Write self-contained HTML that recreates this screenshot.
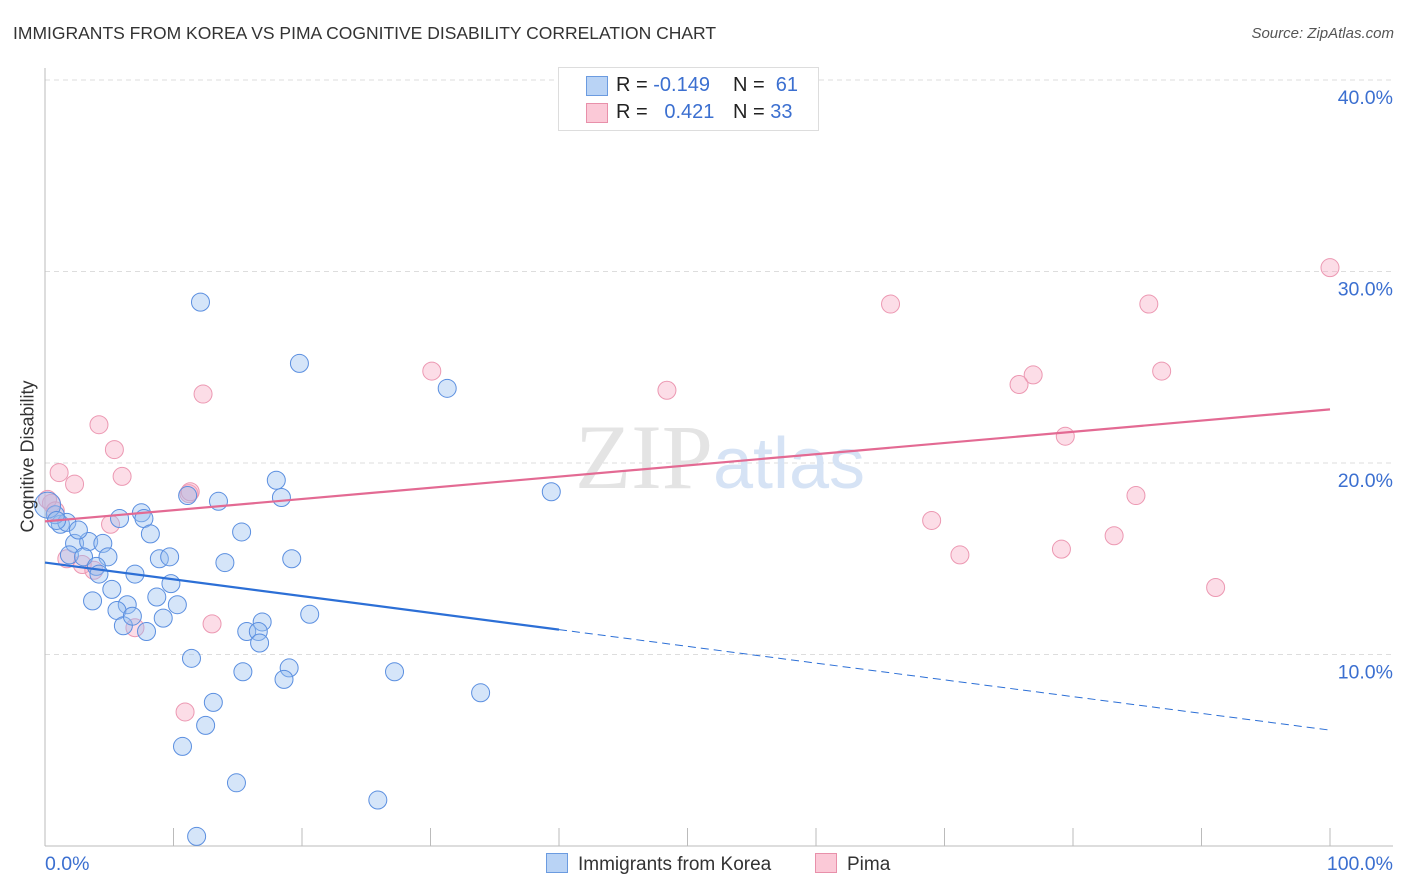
<!DOCTYPE html>
<html><head><meta charset="utf-8">
<style>
body{margin:0;background:#fff;font-family:"Liberation Sans",sans-serif;}
#wrap{position:relative;width:1406px;height:892px;overflow:hidden;}
.t{position:absolute;white-space:nowrap;}
</style></head>
<body>
<div id="wrap">
<div class="t" style="left:13px;top:23px;font-size:17.5px;color:#333;">IMMIGRANTS FROM KOREA VS PIMA COGNITIVE DISABILITY CORRELATION CHART</div>
<div class="t" style="right:12px;top:25px;font-size:15px;color:#555;font-style:italic;">Source: ZipAtlas.com</div>
<svg id="svg" width="1406" height="892" style="position:absolute;left:0;top:0"></svg>
<div class="t" style="left:558px;top:67px;width:259px;height:62px;border:1px solid #ddd;background:#fff;font-size:20px;">
  <div style="position:absolute;left:27px;top:8px;width:20px;height:18px;background:#b9d3f5;border:1px solid #6b9be0"></div>
  <div class="t" style="left:57px;top:6px;color:#222">R = <span style="color:#3b6fd0">-0.149</span></div>
  <div class="t" style="left:174px;top:6px;color:#222">N = <span style="color:#3b6fd0">&nbsp;61</span></div>
  <div style="position:absolute;left:27px;top:35px;width:20px;height:18px;background:#fbc9d7;border:1px solid #e890aa"></div>
  <div class="t" style="left:57px;top:33px;color:#222">R = <span style="color:#3b6fd0">&nbsp;&nbsp;0.421</span></div>
  <div class="t" style="left:174px;top:33px;color:#222">N = <span style="color:#3b6fd0">33</span></div>
</div>
<div class="t" style="left:546px;top:853px;font-size:19px;color:#333;"><span style="display:inline-block;width:20px;height:18px;background:#b9d3f5;border:1px solid #6b9be0;vertical-align:-3px;margin-right:10px"></span>Immigrants from Korea</div>
<div class="t" style="left:815px;top:853px;font-size:19px;color:#333;"><span style="display:inline-block;width:20px;height:18px;background:#fbc9d7;border:1px solid #e890aa;vertical-align:-3px;margin-right:10px"></span>Pima</div>
<div class="t" style="left:-48px;top:446px;font-size:18px;color:#333;transform:rotate(-90deg);">Cognitive Disability</div>
</div>
<script>
const yTicks=[10,20,30,40];
const yTickLabels=["10.0%","20.0%","30.0%","40.0%"];
const xTickLabels=["0.0%","100.0%"];
const koreaX=[12.1,19.8,31.3,39.4,18.0,18.4,13.5,11.1,7.5,7.7,5.8,8.2,15.3,1.2,1.7,0.8,2.3,3.4,4.5,4.9,1.9,3.0,4.0,4.2,7.0,8.9,9.7,19.2,14.0,5.2,9.8,3.7,6.4,5.6,8.7,10.3,9.2,6.1,7.9,6.8,20.6,16.9,15.7,16.6,16.7,11.4,15.4,19.0,18.6,27.2,13.1,33.9,12.5,10.7,14.9,25.9,11.8,2.6,0.2,0.9];
const koreaY=[28.4,25.2,23.9,18.5,19.1,18.2,18.0,18.3,17.4,17.1,17.1,16.3,16.4,16.8,16.9,17.3,15.8,15.9,15.8,15.1,15.2,15.1,14.6,14.2,14.2,15.0,15.1,15.0,14.8,13.4,13.7,12.8,12.6,12.3,13.0,12.6,11.9,11.5,11.2,12.0,12.1,11.7,11.2,11.2,10.6,9.8,9.1,9.3,8.7,9.1,7.5,8.0,6.3,5.2,3.3,2.4,0.5,16.5,17.8,17.0];
const pimaX=[100,65.8,85.9,30.1,86.9,76.9,75.8,48.4,12.3,4.2,5.4,79.4,1.1,2.3,6.0,11.2,11.3,84.9,0.5,69.0,5.1,71.2,79.1,83.2,1.7,2.9,3.8,91.1,7.0,13.0,10.9,0.2,0.8];
const pimaY=[30.2,28.3,28.3,24.8,24.8,24.6,24.1,23.8,23.6,22.0,20.7,21.4,19.5,18.9,19.3,18.4,18.5,18.3,17.9,17.0,16.8,15.2,15.5,16.2,15.0,14.7,14.4,13.5,11.4,11.6,7.0,18.1,17.5];
const koreaTrend=[14.8,11.3,6.05];
const pimaTrend=[16.95,22.8];
const NS="http://www.w3.org/2000/svg";
const svg=document.getElementById('svg');
const X=v=>45+v*12.85, Y=v=>846-v*19.15;
function mk(tag,a){const e=document.createElementNS(NS,tag);for(const k in a)e.setAttribute(k,a[k]);svg.appendChild(e);return e;}
yTicks.forEach((t,i)=>{
  const g=mk('line',{x1:45,x2:1393,y1:Y(t),y2:Y(t),stroke:'#ddd','stroke-dasharray':'5,4'});
  
  
  const tx=mk('text',{x:1393,y:Y(t)+24,'text-anchor':'end','font-size':19.5,fill:'#3b6fd0','font-family':'Liberation Sans'});
  tx.textContent=yTickLabels[i];
  
  
});
const ax=mk('line',{x1:45,x2:45,y1:68,y2:846,stroke:'#bbb'});


const bx=mk('line',{x1:45,x2:1393,y1:846,y2:846,stroke:'#bbb'});


for(let i=1;i<=10;i++){const tk=mk('line',{x1:X(i*10),x2:X(i*10),y1:828,y2:846,stroke:'#bbb'});
  
  }
const xl0=mk('text',{x:45,y:870,'font-size':19.5,fill:'#3b6fd0','font-family':'Liberation Sans'});xl0.textContent=xTickLabels[0];


const xl1=mk('text',{x:1393,y:870,'text-anchor':'end','font-size':19.5,fill:'#3b6fd0','font-family':'Liberation Sans'});xl1.textContent=xTickLabels[1];


const wm=mk('text',{x:720,y:488,'text-anchor':'middle','font-size':92,fill:'#e4e4e4','font-family':'Liberation Serif'});
wm.innerHTML='ZIP<tspan font-family="Liberation Sans" font-size="72" fill="#d6e3f5">atlas</tspan>';


pimaX.forEach((v,i)=>{const c=mk('circle',{cx:X(v),cy:Y(pimaY[i]),r:9,fill:'rgba(248,170,195,0.4)',stroke:'#ec98b2','stroke-width':1});
  
  });
koreaX.forEach((v,i)=>{const c=mk('circle',{cx:X(v),cy:Y(koreaY[i]),r:i==58?13:9,fill:'rgba(150,190,240,0.4)',stroke:'#5b8fe0','stroke-width':1});
  
  });
const kl=mk('line',{x1:X(0),y1:Y(koreaTrend[0]),x2:X(40),y2:Y(koreaTrend[1]),stroke:'#2c6fd6','stroke-width':2.2});


const kd=mk('line',{x1:X(40),y1:Y(koreaTrend[1]),x2:X(100),y2:Y(koreaTrend[2]),stroke:'#2c6fd6','stroke-width':1,'stroke-dasharray':'8,5'});


const pl=mk('line',{x1:X(0),y1:Y(pimaTrend[0]),x2:X(100),y2:Y(pimaTrend[1]),stroke:'#e36a93','stroke-width':2.2});


</script>
</body></html>
